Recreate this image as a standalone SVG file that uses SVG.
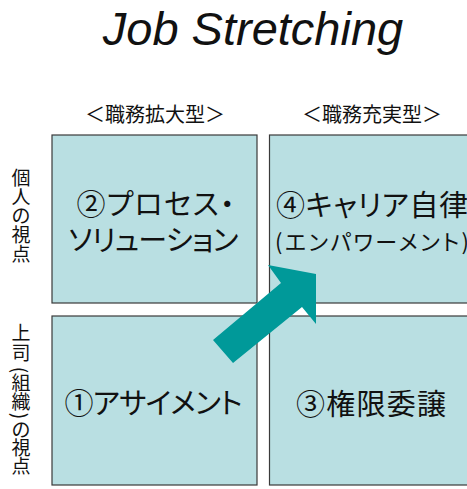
<svg xmlns="http://www.w3.org/2000/svg" width="467" height="489" viewBox="0 0 467 489">
<style>
.jp{font-family:"Noto Sans CJK JP","Noto Sans CJK SC",sans-serif;fill:#111;}
.p{font-feature-settings:"palt";}
.box{fill:#b9dfe2;stroke:#3a3a3a;stroke-width:1.2;}
.v{font-size:19px;text-anchor:middle;}
.par{font-size:19px;text-anchor:middle;dominant-baseline:central;}
.big{font-size:29px;text-anchor:middle;}
</style>
<rect width="467" height="489" fill="#fff"/>
<text x="253" y="45" font-family="Liberation Sans, Arial, sans-serif" font-style="italic" font-size="47" text-anchor="middle" fill="#111">Job Stretching</text>
<text class="jp" x="155" y="122" font-size="20" text-anchor="middle">＜職務拡大型＞</text>
<text class="jp" x="372" y="122" font-size="20" text-anchor="middle">＜職務充実型＞</text>
<g id="label-individual">
<text class="jp v" x="21" y="185">個</text>
<text class="jp v" x="21" y="204">人</text>
<text class="jp v" x="21" y="223">の</text>
<text class="jp v" x="21" y="242">視</text>
<text class="jp v" x="21" y="261">点</text>
</g>
<g id="label-boss">
<text class="jp v" x="21" y="340">上</text>
<text class="jp v" x="21" y="360">司</text>
<text class="jp par" transform="translate(21,370) rotate(90)">(</text>
<text class="jp v" x="21" y="390">組</text>
<text class="jp v" x="21" y="409">織</text>
<text class="jp par" transform="translate(21,416) rotate(90)">)</text>
<text class="jp v" x="21" y="437">の</text>
<text class="jp v" x="21" y="455">視</text>
<text class="jp v" x="21" y="473">点</text>
</g>
<g id="node2">
<rect class="box" x="52" y="135" width="205" height="168"/>
<text class="jp p big" x="155.5" y="215" textLength="158" lengthAdjust="spacing">②プロセス・</text>
<text class="jp p big" x="153.5" y="251" textLength="170" lengthAdjust="spacing">ソリューション</text>
</g>
<g id="node4">
<rect class="box" x="269.5" y="135" width="210" height="168"/>
<text class="jp p big" x="372" y="216" textLength="192" lengthAdjust="spacing">④キャリア自律</text>
<text class="jp p" x="372" y="250" font-size="22" text-anchor="middle" textLength="194" lengthAdjust="spacing">(エンパワーメント)</text>
</g>
<g id="node1">
<rect class="box" x="52" y="316" width="205" height="169"/>
<text class="jp p big" x="153.5" y="414" textLength="178" lengthAdjust="spacing">①アサイメント</text>
</g>
<g id="node3">
<rect class="box" x="269.5" y="316" width="210" height="169"/>
<text class="jp p big" x="371" y="415" textLength="150" lengthAdjust="spacing">③権限委譲</text>
</g>
<g id="connectors">
<polygon points="213,340 281,283 268,265 316,274 316,324 302,307 233,363" fill="#009999"/>
</g>
</svg>
